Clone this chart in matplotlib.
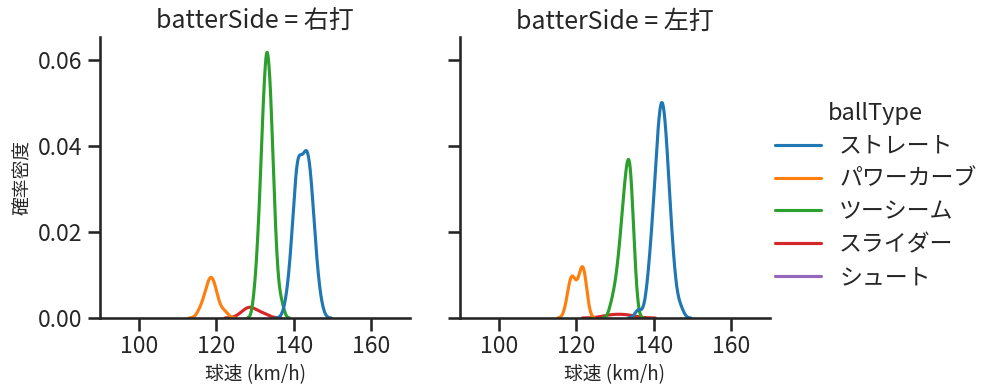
import numpy as np
import pandas as pd
import seaborn as sns
import matplotlib.pyplot as plt

sns.set_theme(style="ticks", context="talk", palette="tab10")
plt.rcParams['font.family'] = ['Noto Sans CJK JP', 'DejaVu Sans']

ball_types = ["ストレート", "パワーカーブ", "ツーシーム", "スライダー", "シュート"]
sides = ["右打", "左打"]

# 右打 : 球速 (km/h) と球数
right_straight_kmh = [138, 139, 140, 141, 142, 143, 144, 145, 146, 147]
right_straight_n = [1, 3, 7, 12, 9, 11, 11, 7, 3, 1]
right_curve_kmh = [116, 117, 118, 119, 120, 122]
right_curve_n = [1, 1, 3, 3, 2, 1]
right_twoseam_kmh = [130, 131, 132, 133, 134, 135, 136, 137]
right_twoseam_n = [2, 6, 13, 18, 15, 7, 2, 1]
right_slider_kmh = [127, 129, 132]
right_slider_n = [1, 2, 1]
right_shoot_kmh = [140]
right_shoot_n = [1]

# 左打 : 球速 (km/h) と球数
left_straight_kmh = [136, 138, 139, 140, 141, 142, 143, 144, 145, 146, 147]
left_straight_n = [1, 1, 4, 7, 12, 15, 13, 8, 4, 1, 1]
left_curve_kmh = [118, 119, 120, 121, 122]
left_curve_n = [2, 4, 1, 3, 5]
left_twoseam_kmh = [129, 130, 131, 132, 133, 134, 135]
left_twoseam_n = [1, 2, 4, 7, 10, 11, 4]
left_slider_kmh = [129, 133]
left_slider_n = [1, 1]

groups = [
    ("右打", "ストレート", right_straight_kmh, right_straight_n),
    ("右打", "パワーカーブ", right_curve_kmh, right_curve_n),
    ("右打", "ツーシーム", right_twoseam_kmh, right_twoseam_n),
    ("右打", "スライダー", right_slider_kmh, right_slider_n),
    ("右打", "シュート", right_shoot_kmh, right_shoot_n),
    ("左打", "ストレート", left_straight_kmh, left_straight_n),
    ("左打", "パワーカーブ", left_curve_kmh, left_curve_n),
    ("左打", "ツーシーム", left_twoseam_kmh, left_twoseam_n),
    ("左打", "スライダー", left_slider_kmh, left_slider_n),
]

frames = []
for side, bt, kmh, n in groups:
    speeds = np.repeat(kmh, n)
    frames.append(pd.DataFrame({"batterSide": side, "ballType": bt, "球速": speeds}))
df = pd.concat(frames, ignore_index=True)

g = sns.displot(df, x="球速", hue="ballType", col="batterSide", kind="kde",
                hue_order=ball_types, col_order=sides, height=4, aspect=1,
                warn_singular=False)
g.set(xlim=(90, 170), ylim=(0, 0.0653))
for ax in g.axes.flat:
    ax.set_xlabel("球速 (km/h)", fontsize=13.5)
    ax.set_yticks([0, 0.02, 0.04, 0.06])
    ax.set_xticks([100, 120, 140, 160])
g.axes[0, 0].set_ylabel("確率密度", fontsize=13.5)

fig = g.figure
fig.set_size_inches(9.97, 3.91)
fig.subplots_adjust(left=0.1003, right=0.7723, bottom=0.1867, top=0.9054, wspace=0.161)

sns.move_legend(g, "center right", bbox_to_anchor=(1.0, 0.5), frameon=False,
                title="ballType", title_fontsize=17, labelspacing=0.43)

fig.savefig("out.png", dpi=100)
